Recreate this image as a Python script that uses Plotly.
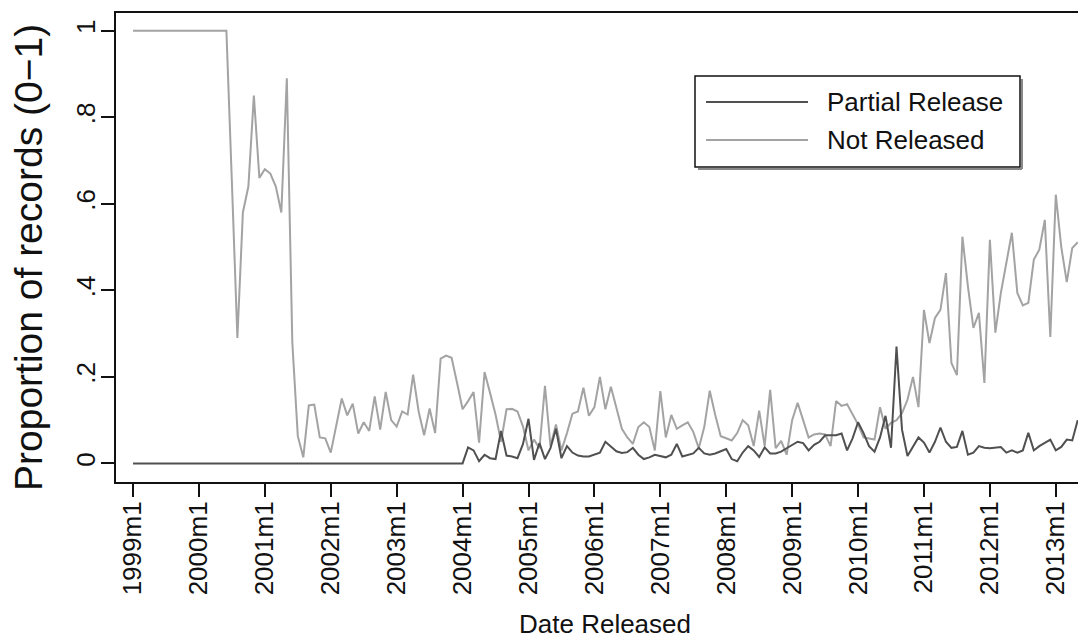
import plotly.graph_objects as go

# ---- data (monthly, starting 1999m1) ----
start_year = 1999
tick_years = list(range(1999, 2014))
tick_labels = [f"{y}m1" for y in tick_years]

not_released = [
    1.0, 1.0, 1.0, 1.0, 1.0, 1.0, 1.0, 1.0, 1.0, 1.0, 1.0, 1.0,
    1.0, 1.0, 1.0, 1.0, 1.0, 1.0, 0.65, 0.29, 0.58, 0.64, 0.85, 0.66,
    0.68, 0.67, 0.64, 0.58, 0.89, 0.28, 0.063, 0.014, 0.134, 0.136, 0.06, 0.058,
    0.025, 0.09, 0.15, 0.111, 0.138, 0.069, 0.095, 0.075, 0.155, 0.078, 0.165, 0.10,
    0.085, 0.12, 0.113, 0.205, 0.12, 0.065, 0.127, 0.07, 0.242, 0.249, 0.244, 0.186,
    0.125, 0.144, 0.165, 0.048, 0.211, 0.163, 0.113, 0.05, 0.125, 0.126, 0.12, 0.085,
    0.03, 0.055, 0.035, 0.179, 0.04, 0.09, 0.03, 0.07, 0.115, 0.12, 0.175, 0.11,
    0.13, 0.2, 0.125, 0.177, 0.13, 0.08, 0.06, 0.045, 0.084, 0.095, 0.084, 0.03,
    0.167, 0.06, 0.112, 0.08, 0.088, 0.095, 0.073, 0.035, 0.084, 0.168, 0.112, 0.063,
    0.058, 0.053, 0.07, 0.1, 0.088, 0.04, 0.122, 0.04, 0.17, 0.035, 0.052, 0.02,
    0.1, 0.14, 0.1, 0.06, 0.067, 0.069, 0.067, 0.04, 0.144, 0.133, 0.137, 0.114,
    0.09, 0.06, 0.058, 0.055, 0.13, 0.08, 0.094, 0.1, 0.116, 0.147, 0.2, 0.13,
    0.355, 0.278, 0.336, 0.355, 0.44, 0.232, 0.204, 0.524, 0.409, 0.313, 0.348, 0.186,
    0.517, 0.302, 0.394, 0.463, 0.533, 0.394, 0.365, 0.371, 0.471, 0.494, 0.563, 0.292,
    0.621, 0.50, 0.419, 0.498, 0.511,
]

partial_release = [0.0] * 61 + [
    0.037, 0.03, 0.005, 0.02, 0.012, 0.01, 0.075, 0.018, 0.016, 0.012, 0.045,
    0.103, 0.008, 0.047, 0.01, 0.035, 0.08, 0.012, 0.04, 0.025, 0.018, 0.016, 0.016,
    0.02, 0.025, 0.05, 0.04, 0.028, 0.024, 0.026, 0.036, 0.02, 0.01, 0.014, 0.02,
    0.017, 0.014, 0.02, 0.045, 0.016, 0.02, 0.023, 0.036, 0.023, 0.02, 0.023, 0.028,
    0.033, 0.01, 0.005, 0.025, 0.04, 0.03, 0.015, 0.037, 0.023, 0.023, 0.027, 0.035,
    0.043, 0.05, 0.047, 0.03, 0.043, 0.05, 0.065, 0.065, 0.065, 0.069, 0.03, 0.058,
    0.095, 0.07, 0.04, 0.027, 0.06, 0.11, 0.036, 0.27, 0.078, 0.017, 0.038, 0.06,
    0.048, 0.025, 0.05, 0.083, 0.05, 0.036, 0.038, 0.075, 0.02, 0.025, 0.04, 0.036,
    0.035, 0.036, 0.038, 0.025, 0.03, 0.025, 0.03, 0.071, 0.03, 0.04, 0.048, 0.055,
    0.03, 0.038, 0.055, 0.053, 0.10,
]

months = list(range(len(not_released)))  # month index since 1999m1
month_labels = [f"{start_year + m // 12}m{m % 12 + 1}" for m in months]
tick_vals = [(y - start_year) * 12 for y in tick_years]

FONT = "Liberation Sans, Arial, Helvetica, sans-serif"
OFF = 8                      # default body margin of the page
W, H = 1086 - OFF, 638 - OFF
L, R, T, B = 116 - OFF, 0, 13 - OFF, 156
PW, PH = W - L - R, H - T - B

def px(x):
    """page pixel x -> paper coordinate"""
    return (x - OFF - L) / PW

def py(y):
    """page pixel y -> paper coordinate"""
    return (H - B - (y - OFF)) / PH

fig = go.Figure()
fig.add_trace(go.Scatter(
    x=months, y=not_released, mode="lines", name="Not Released",
    line=dict(color="#a3a3a3", width=2), customdata=month_labels,
    hovertemplate="%{customdata}: %{y}<extra>Not Released</extra>",
))
fig.add_trace(go.Scatter(
    x=months, y=partial_release, mode="lines", name="Partial Release",
    line=dict(color="#505050", width=2), customdata=month_labels,
    hovertemplate="%{customdata}: %{y}<extra>Partial Release</extra>",
))

fig.update_layout(
    width=W, height=H,
    margin=dict(l=L, r=R, t=T, b=B, autoexpand=False),
    paper_bgcolor="white", plot_bgcolor="white",
    showlegend=False,
    font=dict(family=FONT, color="#111111", size=26),
)
fig.update_xaxes(
    range=[-3.1, 173.5],
    tickmode="array", tickvals=tick_vals, ticktext=tick_labels,
    tickangle=-90, ticks="outside", ticklen=13, tickwidth=2, tickcolor="#111",
    ticklabelstandoff=-6,
    showline=True, linecolor="#111", linewidth=2, mirror=True,
    showgrid=False, zeroline=False, tickfont=dict(size=26),
)
fig.update_yaxes(
    range=[-0.043, 1.041],
    tickmode="array", tickvals=[0, 0.2, 0.4, 0.6, 0.8, 1],
    ticktext=["0", ".2", ".4", ".6", ".8", "1"],
    tickangle=-90, ticks="outside", ticklen=13, tickwidth=2, tickcolor="#111",
    ticklabelstandoff=-4,
    showline=True, linecolor="#111", linewidth=2, mirror=False,
    showgrid=False, zeroline=False, tickfont=dict(size=26),
)

# axis titles
fig.add_annotation(text="Date Released", xref="paper", yref="paper",
                   x=px(605), y=py(624), showarrow=False,
                   xanchor="center", yanchor="middle", font=dict(size=26))
fig.add_annotation(text="Proportion of records (0\u22121)", xref="paper", yref="paper",
                   x=px(29), y=py(258), showarrow=False, textangle=-90,
                   xanchor="center", yanchor="middle", borderpad=0,
                   font=dict(size=39))

# legend box (drawn)
lx0, lx1, ly0, ly1 = 695, 1020, 76, 167
fig.add_shape(type="line", xref="paper", yref="paper",
              x0=px(lx0 + 3), x1=px(lx1 + 2), y0=py(ly1 + 2), y1=py(ly1 + 2),
              line=dict(color="#888", width=2))
fig.add_shape(type="line", xref="paper", yref="paper",
              x0=px(lx1 + 2), x1=px(lx1 + 2), y0=py(ly0 + 3), y1=py(ly1 + 2),
              line=dict(color="#888", width=2))
fig.add_shape(type="rect", xref="paper", yref="paper",
              x0=px(lx0), x1=px(lx1), y0=py(ly1), y1=py(ly0),
              line=dict(color="#111", width=1.5), fillcolor="white")
legend_items = [("Partial Release", "#505050", 102), ("Not Released", "#a3a3a3", 140)]
for name, col, yy in legend_items:
    fig.add_shape(type="line", xref="paper", yref="paper",
                  x0=px(706), x1=px(808), y0=py(yy), y1=py(yy),
                  line=dict(color=col, width=2))
    fig.add_annotation(text=name, xref="paper", yref="paper",
                       x=px(825), y=py(yy), showarrow=False,
                       xanchor="left", yanchor="middle", font=dict(size=26))

fig.write_html("out.html")
